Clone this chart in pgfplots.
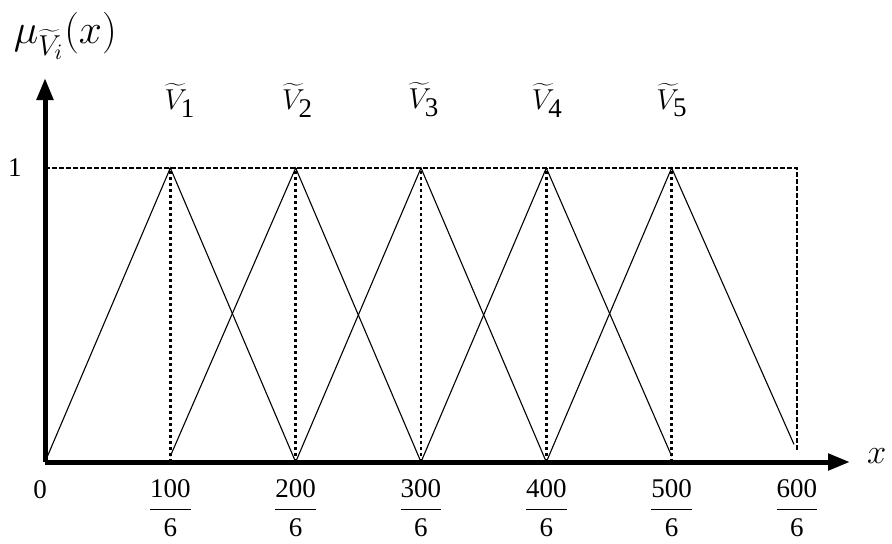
\documentclass[border=0pt]{standalone}
\usepackage{fontspec}
\setmainfont{Liberation Serif}
\usepackage{pgfplots}
\pgfplotsset{compat=1.18}
\usetikzlibrary{arrows.meta}
\begin{document}
\begin{tikzpicture}[x=1pt,y=1pt,font=\fontsize{13.5}{15}\selectfont]
\useasboundingbox (-22.5,-40.5) rectangle (423.5,231);
\begin{axis}[
  at={(0,0)}, anchor=south west,
  scale only axis, width=402.5pt, height=192pt,
  xmin=0, xmax=107.05, ymin=0, ymax=1.306,
  axis lines=left,
  axis line style={line width=2.5pt, -{Triangle[length=11pt,width=8pt]}},
  clip=false,
  xtick={16.667,33.333,50,66.667,83.333,100},
  xticklabels={
    $\displaystyle\frac{\textrm{100}}{\textrm{6}}$,
    $\displaystyle\frac{\textrm{200}}{\textrm{6}}$,
    $\displaystyle\frac{\textrm{300}}{\textrm{6}}$,
    $\displaystyle\frac{\textrm{400}}{\textrm{6}}$,
    $\displaystyle\frac{\textrm{500}}{\textrm{6}}$,
    $\displaystyle\frac{\textrm{600}}{\textrm{6}}$},
  ytick={1}, yticklabels={1},
  major tick length=0pt,
  xticklabel style={anchor=center, yshift=-23pt, font=\fontsize{13.5}{15}\selectfont},
  yticklabel style={anchor=center, xshift=-15pt, font=\fontsize{13.5}{15}\selectfont},
]
% triangular membership functions
\addplot[black, line width=0.55pt] coordinates {(0,0) (16.667,1) (33.333,0)};
\addplot[black, line width=0.55pt] coordinates {(16.667,0.02) (33.333,1) (50,0)};
\addplot[black, line width=0.55pt] coordinates {(33.333,0) (50,1) (66.667,0)};
\addplot[black, line width=0.55pt] coordinates {(50,0) (66.667,1) (83.333,0.02)};
\addplot[black, line width=0.55pt] coordinates {(66.667,0) (83.333,1) (99.6,0.06)};
% level 1 dotted line
\addplot[black, line width=1.3pt, dash pattern=on 2.5pt off 1pt] coordinates {(0,1) (100,1) (100,0.035)};
% vertical dashed lines at peaks
\addplot[black, line width=1.3pt, dash pattern=on 1.6pt off 1.4pt] coordinates {(16.667,0) (16.667,1)};
\addplot[black, line width=1.3pt, dash pattern=on 1.6pt off 1.4pt] coordinates {(33.333,0) (33.333,1)};
\addplot[black, line width=1.3pt, dash pattern=on 1.6pt off 1.4pt] coordinates {(50,0) (50,1)};
\addplot[black, line width=1.3pt, dash pattern=on 1.6pt off 1.4pt] coordinates {(66.667,0) (66.667,1)};
\addplot[black, line width=1.3pt, dash pattern=on 1.6pt off 1.4pt] coordinates {(83.333,0) (83.333,1)};
% labels
\node at (axis cs:17.95,1.231) {$\widetilde{V}_{\textrm{1}}$};
\node at (axis cs:33.6,1.231) {$\widetilde{V}_{\textrm{2}}$};
\node at (axis cs:50.4,1.231) {$\widetilde{V}_{\textrm{3}}$};
\node at (axis cs:66.8,1.231) {$\widetilde{V}_{\textrm{4}}$};
\node at (axis cs:83.4,1.231) {$\widetilde{V}_{\textrm{5}}$};
\node at (axis cs:-0.66,-0.095) {0};
\node[font=\fontsize{21}{24}\selectfont] at (axis cs:2.7,1.449) {$\mu_{\widetilde{V}_i}(x)$};
\node[font=\fontsize{18}{20}\selectfont] at (axis cs:110.6,0.02) {$x$};
\end{axis}
\end{tikzpicture}
\end{document}
